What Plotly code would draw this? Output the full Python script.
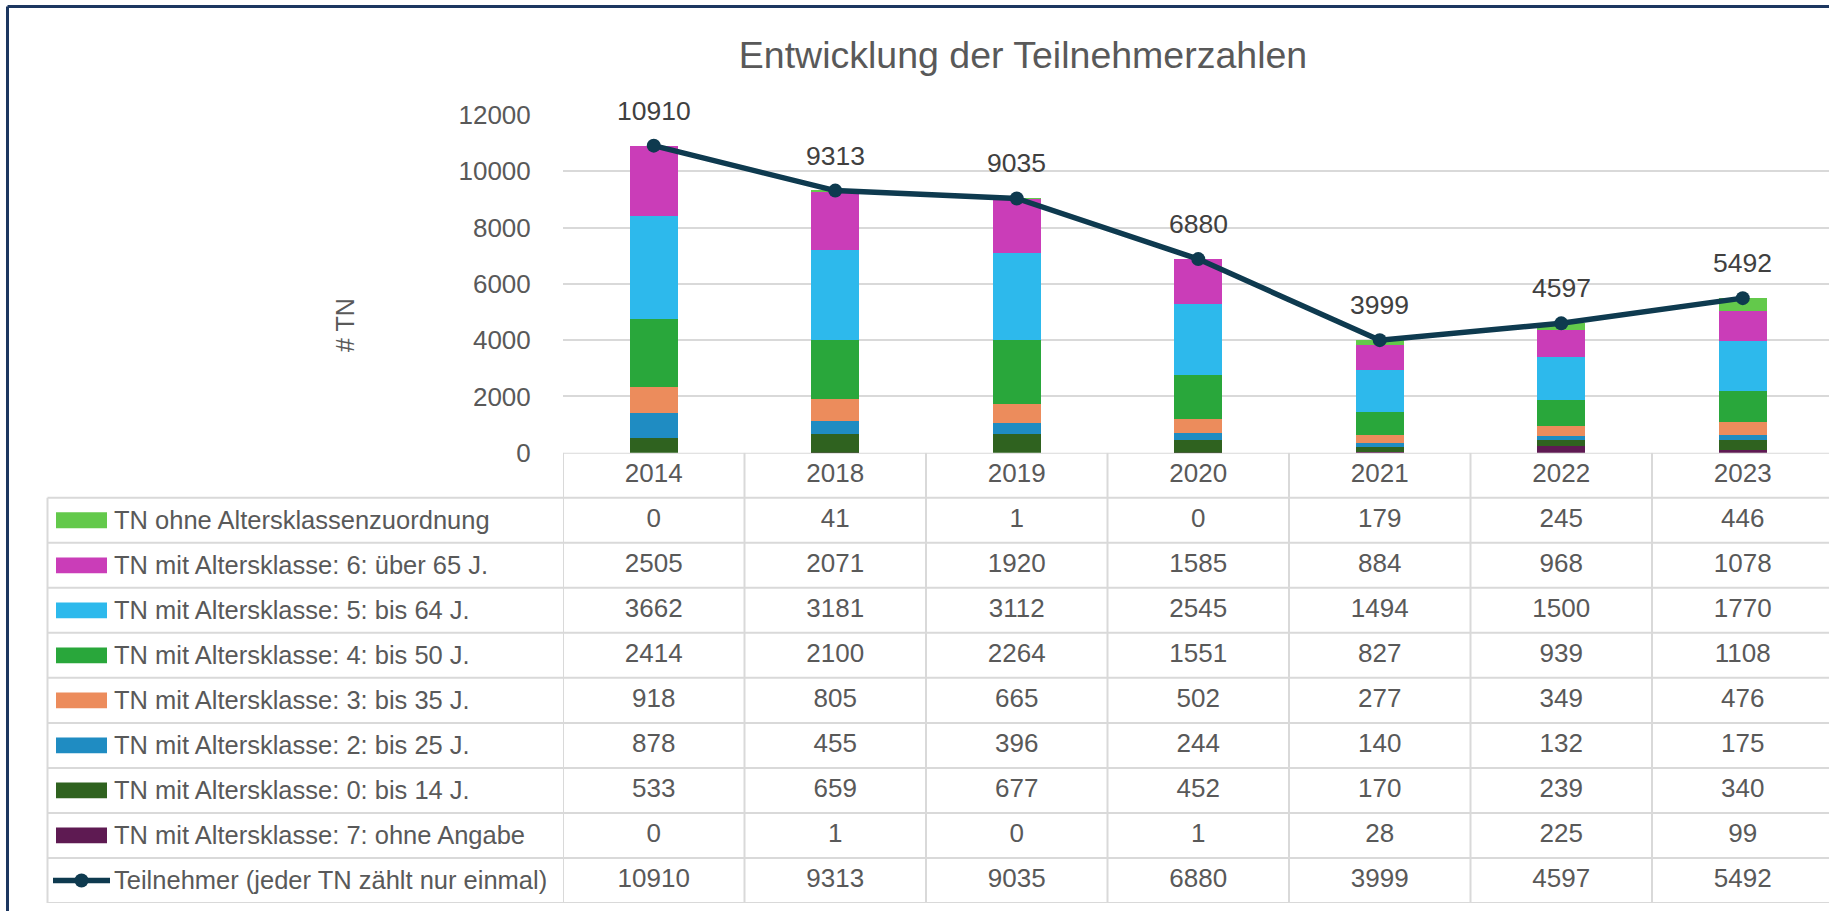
import plotly.graph_objects as go

# ---------------- data ----------------
years = ['2014', '2018', '2019', '2020', '2021', '2022', '2023']

ohne_zuordnung = [0, 41, 1, 0, 179, 245, 446]
ak6_ueber65 = [2505, 2071, 1920, 1585, 884, 968, 1078]
ak5_bis64 = [3662, 3181, 3112, 2545, 1494, 1500, 1770]
ak4_bis50 = [2414, 2100, 2264, 1551, 827, 939, 1108]
ak3_bis35 = [918, 805, 665, 502, 277, 349, 476]
ak2_bis25 = [878, 455, 396, 244, 140, 132, 175]
ak0_bis14 = [533, 659, 677, 452, 170, 239, 340]
ak7_ohne_angabe = [0, 1, 0, 1, 28, 225, 99]
teilnehmer = [10910, 9313, 9035, 6880, 3999, 4597, 5492]

y_tick_values = [0, 2000, 4000, 6000, 8000, 10000, 12000]

title_text = 'Entwicklung der Teilnehmerzahlen'
y_title = '# TN'
line_name = 'Teilnehmer (jeder TN zählt nur einmal)'

# table order (top -> bottom); bars stack in reverse order
bar_series = [
    ('TN ohne Altersklassenzuordnung', ohne_zuordnung, '#63c94b'),
    ('TN mit Altersklasse: 6: über 65 J.', ak6_ueber65, '#ca3db8'),
    ('TN mit Altersklasse: 5: bis 64 J.', ak5_bis64, '#2db9ec'),
    ('TN mit Altersklasse: 4: bis 50 J.', ak4_bis50, '#29a73b'),
    ('TN mit Altersklasse: 3: bis 35 J.', ak3_bis35, '#ec8c5c'),
    ('TN mit Altersklasse: 2: bis 25 J.', ak2_bis25, '#1f8cc2'),
    ('TN mit Altersklasse: 0: bis 14 J.', ak0_bis14, '#2f621f'),
    ('TN mit Altersklasse: 7: ohne Angabe', ak7_ohne_angabe, '#5e1a52'),
]
line_color = '#0e3a4f'

# ---------------- geometry ----------------
W, H = 1829, 911
M_T, M_B = 115, 8
PH = H - M_T - M_B


def px_x(px):
    return px / W


def px_y(py):
    return (H - M_B - py) / PH


PLOT_LEFT = 563
PLOT_BOTTOM = 452.7
TABLE_LEFT = 47.5
COL_W = 181.5
n_rows = len(bar_series) + 2  # header + series + line

FONT = 'Liberation Sans, Arial, sans-serif'
GREY = '#595959'
GRID = '#d9d9d9'
NUM_SIZE = 26
LABEL_SIZE = 25.5

fig = go.Figure()

# stacked bars (bottom first)
for name, vals, col in reversed(bar_series):
    fig.add_trace(go.Bar(x=years, y=vals, name=name, marker=dict(color=col, line=dict(width=0)),
                         xaxis='x', yaxis='y', showlegend=False))

fig.add_trace(go.Scatter(x=years, y=teilnehmer, name=line_name, mode='lines+markers',
                         line=dict(color=line_color, width=5.5),
                         marker=dict(color=line_color, size=14),
                         xaxis='x', yaxis='y', showlegend=False))

# table: header years
fig.add_trace(go.Scatter(x=years, y=[0.5] * len(years), mode='text', text=years,
                         textfont=dict(family=FONT, size=NUM_SIZE, color=GREY),
                         xaxis='x', yaxis='y2', showlegend=False, hoverinfo='skip',
                         cliponaxis=False))

table_rows = [(n, v) for n, v, c in bar_series] + [(line_name, teilnehmer)]
for r, (name, vals) in enumerate(table_rows):
    fig.add_trace(go.Scatter(x=years, y=[r + 1.5] * len(years), mode='text',
                             text=[str(v) for v in vals],
                             textfont=dict(family=FONT, size=NUM_SIZE, color=GREY),
                             xaxis='x', yaxis='y2', showlegend=False, hoverinfo='skip',
                             cliponaxis=False))

shapes = []
annotations = []

# data labels above line points (category index positions)
for i, v in enumerate(teilnehmer):
    annotations.append(dict(x=i, y=v, xref='x', yref='y', text=str(v), showarrow=False,
                            xanchor='center', yanchor='middle', yshift=35,
                            font=dict(family=FONT, size=26.5, color='#404040')))

# table grid lines
line_style = dict(color=GRID, width=2)
shapes.append(dict(type='line', xref='paper', yref='y2', x0=px_x(PLOT_LEFT), x1=1.0,
                   y0=0, y1=0, line=line_style, layer='below'))
for k in range(1, n_rows + 1):
    shapes.append(dict(type='line', xref='paper', yref='y2', x0=px_x(TABLE_LEFT), x1=1.0,
                       y0=k, y1=k, line=line_style, layer='below'))
for k in range(len(years)):
    shapes.append(dict(type='line', xref='x', yref='y2', x0=k - 0.5, x1=k - 0.5,
                       y0=0, y1=n_rows, line=line_style, layer='below'))
shapes.append(dict(type='line', xref='paper', yref='y2', x0=px_x(TABLE_LEFT), x1=px_x(TABLE_LEFT),
                   y0=1, y1=n_rows, line=line_style, layer='below'))

# row labels + legend keys
for r, (name, vals, col) in enumerate(bar_series):
    yc = r + 1.5
    shapes.append(dict(type='rect', xref='paper', yref='y2', x0=px_x(56), x1=px_x(107),
                       y0=yc - 0.175, y1=yc + 0.175, fillcolor=col, line=dict(width=0)))
    annotations.append(dict(x=px_x(112), y=yc, xref='paper', yref='y2', text=name,
                            showarrow=False, xanchor='left', yanchor='middle',
                            font=dict(family=FONT, size=LABEL_SIZE, color=GREY)))
yc = len(bar_series) + 1.5
shapes.append(dict(type='line', xref='paper', yref='y2', x0=px_x(53), x1=px_x(110),
                   y0=yc, y1=yc, line=dict(color=line_color, width=5.5)))
shapes.append(dict(type='circle', xref='paper', yref='y2', x0=px_x(74.5), x1=px_x(88.5),
                   y0=yc - 0.155, y1=yc + 0.155, fillcolor=line_color, line=dict(width=0)))
annotations.append(dict(x=px_x(112), y=yc, xref='paper', yref='y2', text=line_name,
                        showarrow=False, xanchor='left', yanchor='middle',
                        font=dict(family=FONT, size=LABEL_SIZE, color=GREY)))

# y-axis title
annotations.append(dict(x=px_x(345), y=px_y(325), xref='paper', yref='paper', text=y_title,
                        textangle=-90, showarrow=False, xanchor='center', yanchor='middle',
                        font=dict(family=FONT, size=25, color=GREY)))

# outer chart border (top and left visible)
border = dict(color='#1d3760', width=3)
shapes.append(dict(type='line', xref='paper', yref='paper', x0=px_x(7.5), x1=1.02,
                   y0=px_y(6.5), y1=px_y(6.5), line=border))
shapes.append(dict(type='line', xref='paper', yref='paper', x0=px_x(7.5), x1=px_x(7.5),
                   y0=px_y(6.5), y1=-0.03, line=border))

fig.update_layout(
    width=W, height=H,
    margin=dict(l=0, r=0, t=M_T, b=M_B),
    paper_bgcolor='white', plot_bgcolor='white',
    font=dict(family=FONT, color=GREY),
    barmode='stack', bargap=0.735,
    showlegend=False,
    title=dict(text=title_text, x=px_x(1023), xanchor='center', xref='paper',
               y=1 - 55 / H, yref='container', yanchor='middle',
               font=dict(family=FONT, size=37.5, color=GREY)),
    xaxis=dict(type='category', domain=[px_x(PLOT_LEFT), 1.0],
               range=[-0.5, len(years) - 0.5 - (PLOT_LEFT + COL_W * len(years) - W) / COL_W],
               showticklabels=False, showgrid=False, zeroline=False, showline=False,
               anchor='y', fixedrange=True),
    yaxis=dict(domain=[px_y(PLOT_BOTTOM), 1.0], range=[0, 12000], tickvals=y_tick_values,
               tickformat='d',
               showgrid=True, gridcolor=GRID, gridwidth=2, zeroline=False, showline=False,
               ticks='outside', ticklen=26, tickcolor='rgba(0,0,0,0)',
               tickfont=dict(family=FONT, size=26, color=GREY), anchor='x', automargin=False),
    yaxis2=dict(domain=[0, px_y(PLOT_BOTTOM)], range=[n_rows, 0], visible=False,
                showgrid=False, zeroline=False, anchor='x'),
    shapes=shapes,
    annotations=annotations,
)

fig.write_html('out.html', config={'displayModeBar': False},
               post_script="document.body.style.margin='0';")
